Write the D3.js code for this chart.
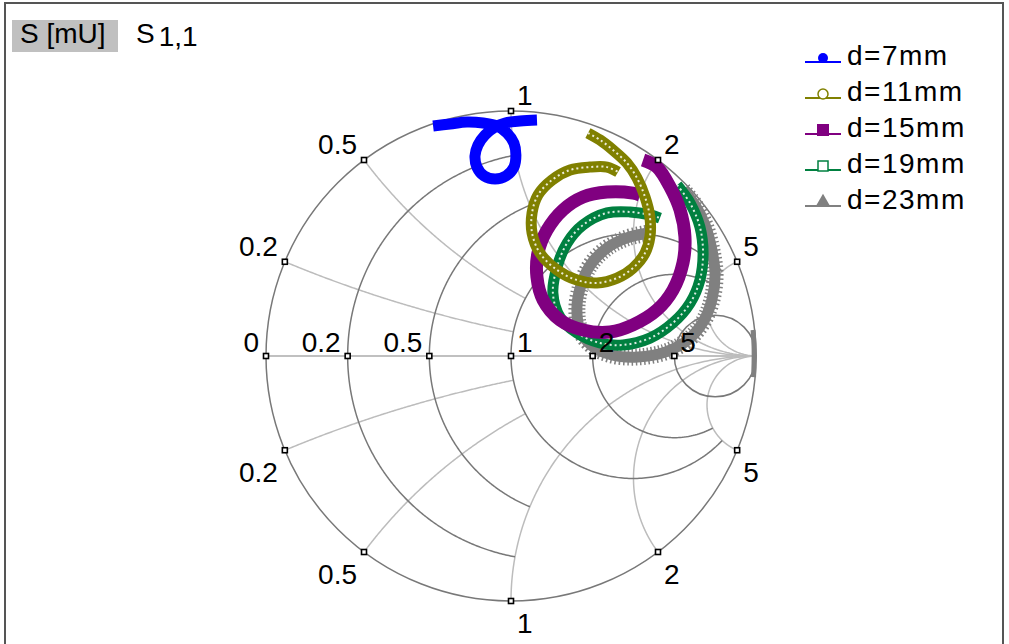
<!DOCTYPE html>
<html>
<head>
<meta charset="utf-8">
<script src="https://cdn.jsdelivr.net/npm/d3@7"></script>
<style>
  body { margin: 0; background: #fff; }
  text { font-family: "Liberation Sans", Arial, sans-serif; font-size: 28px; fill: #000; }
</style>
</head>
<body>
<script>
// reflection coefficient points [re, im]
const d7 = [
    [-0.318, 0.939], [-0.249, 0.947], [-0.180, 0.955], [-0.114, 0.951], [-0.057, 0.939],
    [-0.016, 0.910], [0.012, 0.869], [0.020, 0.820], [0.012, 0.771], [-0.020, 0.735],
    [-0.065, 0.722], [-0.110, 0.735], [-0.139, 0.771], [-0.147, 0.816], [-0.135, 0.861],
    [-0.106, 0.902], [-0.065, 0.935], [-0.024, 0.951], [0.037, 0.959], [0.106, 0.963]
]
const d11 = [
    [0.314, 0.910], [0.363, 0.882], [0.416, 0.841], [0.473, 0.788], [0.514, 0.727],
    [0.547, 0.649], [0.567, 0.567], [0.567, 0.486], [0.547, 0.420], [0.498, 0.359],
    [0.433, 0.318], [0.351, 0.298], [0.269, 0.310], [0.188, 0.351], [0.118, 0.420],
    [0.086, 0.502], [0.086, 0.584], [0.110, 0.657], [0.167, 0.718], [0.241, 0.759],
    [0.322, 0.771], [0.392, 0.771], [0.437, 0.751]
]
const d15 = [
    [0.539, 0.800], [0.596, 0.771], [0.649, 0.690], [0.690, 0.596], [0.710, 0.486],
    [0.702, 0.380], [0.661, 0.269], [0.596, 0.188], [0.498, 0.127], [0.404, 0.098],
    [0.294, 0.106], [0.200, 0.147], [0.131, 0.229], [0.106, 0.322], [0.110, 0.420],
    [0.147, 0.514], [0.212, 0.596], [0.294, 0.649], [0.392, 0.669], [0.498, 0.665],
    [0.527, 0.657]
]
const d19 = [
    [0.678, 0.698], [0.731, 0.624], [0.771, 0.527], [0.784, 0.420], [0.771, 0.310],
    [0.731, 0.216], [0.661, 0.135], [0.567, 0.073], [0.457, 0.045], [0.363, 0.053],
    [0.269, 0.094], [0.200, 0.159], [0.171, 0.257], [0.188, 0.363], [0.229, 0.461],
    [0.294, 0.535], [0.392, 0.584], [0.486, 0.588], [0.567, 0.576], [0.608, 0.563]
]
const d23 = [
    [0.702, 0.678], [0.751, 0.616], [0.792, 0.535], [0.820, 0.433], [0.833, 0.331],
    [0.820, 0.229], [0.784, 0.139], [0.722, 0.065], [0.629, 0.016], [0.518, -0.004],
    [0.412, 0.004], [0.331, 0.041], [0.282, 0.106], [0.269, 0.196], [0.286, 0.290],
    [0.327, 0.376], [0.392, 0.441], [0.473, 0.482], [0.559, 0.502]
]
// short run of d=23mm points sitting on the right edge (near open circuit)
const d23Edge = [
    [0.988, 0.106], [0.992, 0.040], [0.992, -0.030], [0.990, -0.086]
]

const seriesNames = ['d=7mm', 'd=11mm', 'd=15mm', 'd=19mm', 'd=23mm']
const seriesData = [d7, d11, d15, d19, d23]
const seriesColors = ['#0000ff', '#808000', '#800080', '#008040', '#808080']

const rTicks = [0, 0.2, 0.5, 1, 2, 5]
const xTicks = [0.2, 0.5, 1, 2, 5]

const width = 1009
const height = 644
const cx = 511, cy = 356, R = 245

const svg = d3.select("body")
    .append("svg")
    .attr("width", width)
    .attr("height", height)

// frame
svg.append("rect")
    .attr("x", 5).attr("y", 3)
    .attr("width", 998).attr("height", 660)
    .attr("fill", "none")
    .attr("stroke", "#555")
    .attr("stroke-width", 2)

const xScale = d3.scaleLinear().domain([-1, 1]).range([cx - R, cx + R])
const yScale = d3.scaleLinear().domain([-1, 1]).range([cy + R, cy - R])

// z = r + jx  ->  gamma
function gamma(r, x) {
    const dr = (r + 1) * (r + 1) + x * x
    return [(r * r + x * x - 1) / dr, (2 * x) / dr]
}

const gridLine = d3.line().x(d => xScale(d[0])).y(d => yScale(d[1]))
const grid = svg.append("g")

// real axis
grid.append("line")
    .attr("x1", xScale(-1)).attr("x2", xScale(1))
    .attr("y1", yScale(0)).attr("y2", yScale(0))
    .attr("stroke", "#c0c0c0").attr("stroke-width", 2)

// reactance arcs (light)
const xLimit = { 0.2: 1, 0.5: 1, 1: Infinity, 2: Infinity, 5: Infinity }
xTicks.forEach(x => {
    [1, -1].forEach(s => {
        const pts = []
        const tMax = xLimit[x] === Infinity ? Math.PI / 2 * 0.999 : Math.atan(xLimit[x])
        for (let i = 0; i <= 200; i++) {
            pts.push(gamma(Math.tan(tMax * i / 200), s * x))
        }
        if (xLimit[x] === Infinity) pts.push([1, 0])
        grid.append("path")
            .attr("d", gridLine(pts))
            .attr("fill", "none")
            .attr("stroke", "#bcbcbc")
            .attr("stroke-width", 1.5)
    })
})

// resistance circles (dark)
const rLimit = { 0: Infinity, 0.2: 1, 0.5: 1, 1: 5, 2: 5, 5: Infinity }
rTicks.forEach(r => {
    if (rLimit[r] === Infinity) {
        grid.append("circle")
            .attr("cx", xScale(r / (1 + r)))
            .attr("cy", yScale(0))
            .attr("r", xScale(1 / (1 + r)) - xScale(0))
            .attr("fill", "none")
            .attr("stroke", "#787878")
            .attr("stroke-width", 1.5)
    } else {
        const pts = []
        const tMax = Math.atan(rLimit[r])
        for (let i = -200; i <= 200; i++) {
            pts.push(gamma(r, Math.tan(tMax * i / 200)))
        }
        grid.append("path")
            .attr("d", gridLine(pts))
            .attr("fill", "none")
            .attr("stroke", "#787878")
            .attr("stroke-width", 1.5)
    }
})

// tick positions
const ticks = []
rTicks.forEach(r => ticks.push({ g: gamma(r, 0), label: String(r), axis: true }))
xTicks.forEach(x => {
    ticks.push({ g: gamma(0, x), label: String(x), top: true })
    ticks.push({ g: gamma(0, -x), label: String(x), top: false })
})

// traces
const traceLine = d3.line()
    .x(d => xScale(d[0]))
    .y(d => yScale(d[1]))
    .curve(d3.curveCatmullRom.alpha(0.5))

const traces = svg.append("g")
const order = [4, 3, 2, 1, 0]
order.forEach(i => {
    const path = traceLine(seriesData[i])
    if (i === 4) {
        traces.append("path").attr("d", path).attr("fill", "none")
            .attr("stroke", seriesColors[i]).attr("stroke-width", 17)
            .attr("stroke-dasharray", "1.5 2.5")
        traces.append("path").attr("d", traceLine(d23Edge)).attr("fill", "none")
            .attr("stroke", seriesColors[i]).attr("stroke-width", 5)
    }
    traces.append("path").attr("d", path).attr("fill", "none")
        .attr("stroke", seriesColors[i])
        .attr("stroke-width", i === 2 ? 13 : 11)
        .attr("stroke-linejoin", "round")
    if (i === 1 || i === 3) {
        traces.append("path").attr("d", path).attr("fill", "none")
            .attr("stroke", "#fff").attr("stroke-width", 2)
            .attr("stroke-dasharray", "2 3")
            .attr("opacity", 0.85)
    }
})

// tick markers and labels drawn over the traces
svg.append("g").selectAll("rect")
    .data(ticks).enter()
    .append("rect")
    .attr("x", d => xScale(d.g[0]) - 2.5)
    .attr("y", d => yScale(d.g[1]) - 2.5)
    .attr("width", 5).attr("height", 5)
    .attr("fill", "#fff")
    .attr("stroke", "#000")
    .attr("stroke-width", 1.6)

svg.append("g").selectAll("text")
    .data(ticks).enter()
    .append("text")
    .attr("text-anchor", d => d.g[0] < -0.01 ? "end" : "start")
    .attr("x", d => xScale(d.g[0]) + (d.g[0] < -0.01 ? -7 : 6))
    .attr("y", d => {
        const py = yScale(d.g[1])
        if (d.axis) return py - 4
        return d.top ? py - 6 : py + 32
    })
    .text(d => d.label)

// legend
const legend = svg.append("g")
seriesNames.forEach((name, i) => {
    const y = 62 + i * 36
    const c = seriesColors[i]
    legend.append("line")
        .attr("x1", 805).attr("x2", 841)
        .attr("y1", y).attr("y2", y)
        .attr("stroke", c).attr("stroke-width", 2)
    const mx = 823, my = y - 4
    if (i === 0) {
        legend.append("circle").attr("cx", mx).attr("cy", my).attr("r", 5).attr("fill", c)
    } else if (i === 1) {
        legend.append("circle").attr("cx", mx).attr("cy", my).attr("r", 5)
            .attr("fill", "#fff").attr("stroke", c).attr("stroke-width", 1.5)
    } else if (i === 2) {
        legend.append("rect").attr("x", mx - 6).attr("y", my - 6)
            .attr("width", 12).attr("height", 12).attr("fill", c)
    } else if (i === 3) {
        legend.append("rect").attr("x", mx - 5).attr("y", my - 5)
            .attr("width", 10).attr("height", 10)
            .attr("fill", "#fff").attr("stroke", c).attr("stroke-width", 1.5)
    } else {
        legend.append("path")
            .attr("d", d3.symbol().type(d3.symbolTriangle).size(90)())
            .attr("transform", `translate(${mx}, ${my})`)
            .attr("fill", c)
    }
    legend.append("text")
        .attr("x", 847).attr("y", y + 3)
        .style("letter-spacing", "1.5px")
        .text(name)
})

// title
svg.append("rect")
    .attr("x", 12).attr("y", 20)
    .attr("width", 106).attr("height", 32)
    .attr("fill", "#c0c0c0")
svg.append("text").attr("x", 20).attr("y", 43).text("S [mU]")
const st = svg.append("text").attr("x", 136).attr("y", 43)
st.append("tspan").text("S")
st.append("tspan").attr("dx", 4).attr("dy", 3).text("1,1")
</script>
</body>
</html>
